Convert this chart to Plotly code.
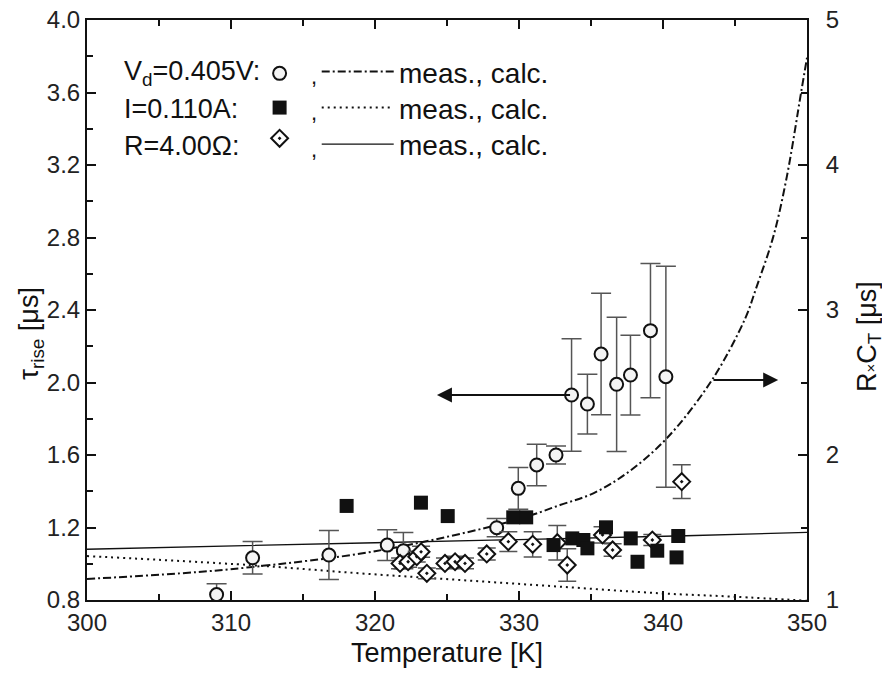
import plotly.graph_objects as go

# ---------------- data ----------------
# V_d = 0.405 V : measured tau_rise (left axis), with error bars
temp_vd = [309.0, 311.5, 316.8, 320.85, 321.97, 328.45, 329.95, 331.23, 332.57,
           333.65, 334.75, 335.7, 336.78, 337.74, 339.13, 340.2]
tau_vd = [0.83, 1.033, 1.048, 1.103, 1.072, 1.199, 1.416, 1.545, 1.60,
          1.931, 1.881, 2.157, 1.99, 2.041, 2.286, 2.032]
err_vd = [0.06, 0.09, 0.135, 0.085, 0.10, 0.05, 0.115, 0.115, 0.05,
          0.31, 0.165, 0.335, 0.37, 0.22, 0.37, 0.61]

# I = 0.110 A : measured tau_rise (left axis)
temp_i = [318.03, 323.19, 325.05, 329.6, 330.5, 332.4, 333.7, 334.47, 334.75,
          336.04, 337.76, 338.23, 339.6, 340.94, 341.06]
tau_i = [1.319, 1.337, 1.263, 1.256, 1.256, 1.103, 1.14, 1.131, 1.085,
         1.201, 1.14, 1.011, 1.072, 1.035, 1.153]

# R = 4.00 Ohm : measured tau_rise (left axis), with error bars
temp_r = [321.74, 322.3, 322.9, 323.2, 323.6, 324.86, 325.56, 326.25, 327.76,
          329.26, 330.95, 332.66, 333.35, 335.8, 336.5, 339.26, 341.3]
tau_r = [1.002, 1.011, 1.039, 1.066, 0.947, 1.002, 1.011, 1.002, 1.054,
         1.122, 1.107, 1.116, 0.993, 1.159, 1.076, 1.131, 1.453]
err_r = [0.03, 0.03, 0.03, 0.03, 0.03, 0.03, 0.03, 0.03, 0.033,
         0.055, 0.07, 0.095, 0.09, 0.045, 0.035, 0.03, 0.093]

# calculated R x C_T (right axis)
temp_calc_vd = [300, 306.5, 311.3, 320.1, 329.8, 332.85, 335.16, 337.48, 340.26,
                343.4, 345.7, 346.5, 347.66, 348.6, 349.6, 350]
rc_calc_vd = [1.145, 1.184, 1.226, 1.338, 1.552, 1.655, 1.736, 1.874, 2.115,
              2.517, 2.94, 3.16, 3.506, 3.92, 4.506, 4.74]

temp_calc_i = [300, 311.3, 318.96, 325.9, 332.85, 339.8, 344.9, 350]
rc_calc_i = [1.303, 1.241, 1.184, 1.138, 1.092, 1.046, 1.023, 0.995]

temp_calc_r = [300, 320, 341.6, 350]
rc_calc_r = [1.35, 1.395, 1.443, 1.467]

# arrows: which axis the data belong to
arrow_left = dict(tail_t=333.65, head_t=324.3, tau=1.931)
arrow_right = dict(tail_t=343.4, head_t=348.0, rc=2.517)

# legend rows
legend_labels = ["V<sub>d</sub>=0.405V:", "I=0.110A:", "R=4.00\u03a9:"]
legend_text = "meas., calc."

# axis titles
x_title = "Temperature [K]"
y_left_title = "\u03c4<sub>rise</sub> [\u03bcs]"
y_right_title = "R<span style='font-size:15px'>\u00d7</span>C<sub>T</sub> [\u03bcs]"

FONT = "Arial, Liberation Sans, sans-serif"
BLACK = "#111111"
ERRC = "#555555"

fig = go.Figure()

# calc lines on right axis (base y axis, drawn underneath)
fig.add_trace(go.Scatter(x=temp_calc_vd, y=rc_calc_vd, mode="lines", line_shape="spline",
                         line=dict(color=BLACK, width=2, dash="8px,3px,2px,3px"),
                         xaxis="x", yaxis="y", showlegend=False))
fig.add_trace(go.Scatter(x=temp_calc_i, y=rc_calc_i, mode="lines", line_shape="spline",
                         line=dict(color=BLACK, width=2, dash="2px,4px"),
                         xaxis="x", yaxis="y", showlegend=False))
fig.add_trace(go.Scatter(x=temp_calc_r, y=rc_calc_r, mode="lines", line_shape="spline",
                         line=dict(color=BLACK, width=1.3),
                         xaxis="x", yaxis="y", showlegend=False))

# measured on left axis (overlay y2, drawn on top)
fig.add_trace(go.Scatter(x=temp_vd, y=tau_vd, mode="markers",
                         error_y=dict(type="data", array=err_vd, color=ERRC, thickness=1.5, width=10),
                         marker=dict(symbol="circle", size=13, color="#f4f4f4",
                                     line=dict(color=BLACK, width=2)),
                         xaxis="x", yaxis="y2", showlegend=False))
fig.add_trace(go.Scatter(x=temp_r, y=tau_r, mode="markers",
                         error_y=dict(type="data", array=err_r, color=ERRC, thickness=1.5, width=9),
                         marker=dict(symbol="diamond-dot", size=13, color="white",
                                     line=dict(color=BLACK, width=2)),
                         xaxis="x", yaxis="y2", showlegend=False))
fig.add_trace(go.Scatter(x=temp_i, y=tau_i, mode="markers",
                         marker=dict(symbol="square", size=14, color=BLACK,
                                     line=dict(color=BLACK, width=0)),
                         xaxis="x", yaxis="y2", showlegend=False))

# legend samples on a hidden unit overlay (x2/y3 range 0..1)
row_y = [0.908, 0.846, 0.783]
fig.add_trace(go.Scatter(x=[0.2675], y=[row_y[0]], mode="markers",
                         marker=dict(symbol="circle", size=13, color="#f4f4f4", line=dict(color=BLACK, width=2)),
                         xaxis="x2", yaxis="y3", showlegend=False, hoverinfo="skip"))
fig.add_trace(go.Scatter(x=[0.2675], y=[row_y[1] + 0.003], mode="markers",
                         marker=dict(symbol="square", size=14, color=BLACK),
                         xaxis="x2", yaxis="y3", showlegend=False, hoverinfo="skip"))
fig.add_trace(go.Scatter(x=[0.2675], y=[row_y[2] + 0.013], mode="markers",
                         marker=dict(symbol="diamond-dot", size=13, color="white", line=dict(color=BLACK, width=2)),
                         xaxis="x2", yaxis="y3", showlegend=False, hoverinfo="skip"))
for ry, dash, w in zip(row_y, ["8px,3px,2px,3px", "2px,4px", "solid"], [2, 2, 1.3]):
    fig.add_trace(go.Scatter(x=[0.326, 0.426], y=[ry + 0.003, ry + 0.003], mode="lines",
                             line=dict(color=BLACK, width=w, dash=dash),
                             xaxis="x2", yaxis="y3", showlegend=False, hoverinfo="skip"))

annotations = []
for lab, ry in zip(legend_labels, row_y):
    annotations.append(dict(xref="x2", yref="y3", x=0.048, y=ry, text=lab, showarrow=False,
                            xanchor="left", yanchor="middle", font=dict(size=27, family=FONT, color=BLACK)))
    annotations.append(dict(xref="x2", yref="y3", x=0.309, y=ry - 0.006, text=",", showarrow=False,
                            xanchor="left", yanchor="middle", font=dict(size=22, family=FONT, color=BLACK)))
    annotations.append(dict(xref="x2", yref="y3", x=0.430, y=ry, text=legend_text, showarrow=False,
                            xanchor="left", yanchor="middle", font=dict(size=28, family=FONT, color=BLACK)))

annotations.append(dict(xref="x", yref="y2", axref="x", ayref="y2",
                        x=arrow_left["head_t"], y=arrow_left["tau"],
                        ax=arrow_left["tail_t"], ay=arrow_left["tau"],
                        showarrow=True, arrowhead=2, arrowsize=1.5, arrowwidth=2, arrowcolor=BLACK,
                        text=""))
annotations.append(dict(xref="x", yref="y", axref="x", ayref="y",
                        x=arrow_right["head_t"], y=arrow_right["rc"],
                        ax=arrow_right["tail_t"], ay=arrow_right["rc"],
                        showarrow=True, arrowhead=2, arrowsize=1.5, arrowwidth=2, arrowcolor=BLACK,
                        text=""))

# axis titles as rotated annotations (precise placement)
annotations.append(dict(xref="paper", yref="paper", x=-0.077, y=0.46, text=y_left_title,
                        textangle=-90, showarrow=False, xanchor="center", yanchor="middle",
                        font=dict(size=27, family=FONT, color=BLACK)))
annotations.append(dict(xref="paper", yref="paper", x=1.086, y=0.455, text=y_right_title,
                        textangle=-90, showarrow=False, xanchor="center", yanchor="middle",
                        font=dict(size=27, family=FONT, color=BLACK)))

axis_common = dict(showline=True, linecolor=BLACK, linewidth=2, ticks="inside",
                   tickcolor=BLACK, tickwidth=2, ticklen=9, showgrid=False, zeroline=False,
                   automargin=False, ticklabeloverflow="allow",
                   tickfont=dict(size=24, family=FONT, color="#222222"))

fig.update_layout(
    width=882, height=672,
    margin=dict(l=79, r=83, t=12, b=80, autoexpand=False),
    paper_bgcolor="white", plot_bgcolor="white",
    font=dict(family=FONT, color=BLACK),
    xaxis=dict(range=[300, 350], dtick=10, mirror="ticks",
               minor=dict(dtick=5, ticks="inside", ticklen=6, tickcolor=BLACK, tickwidth=2),
               title=dict(text=x_title, font=dict(size=27, family=FONT), standoff=8),
               **axis_common),
    yaxis=dict(range=[1, 5], dtick=1, side="right", ticklabelstandoff=12,
               minor=dict(dtick=0.5, ticks="inside", ticklen=6, tickcolor=BLACK, tickwidth=2),
               **axis_common),
    yaxis2=dict(range=[0.8, 4.0], dtick=0.4, tickformat=".1f", side="left", overlaying="y",
                minor=dict(dtick=0.2, ticks="inside", ticklen=6, tickcolor=BLACK, tickwidth=2),
                **axis_common),
    xaxis2=dict(range=[0, 1], overlaying="x", visible=False, fixedrange=True),
    yaxis3=dict(range=[0, 1], overlaying="y", visible=False, fixedrange=True),
    annotations=annotations,
    showlegend=False,
)

fig.write_html("out.html")
